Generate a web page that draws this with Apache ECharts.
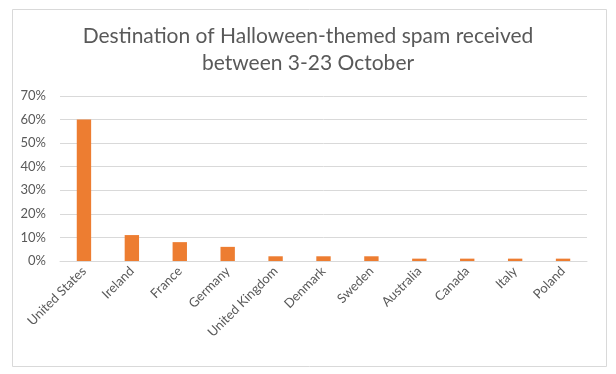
<!DOCTYPE html>
<html>
<head>
<meta charset="utf-8">
<script src="https://cdn.jsdelivr.net/npm/echarts@6/dist/echarts.min.js"></script>
<style>
html,body{margin:0;padding:0;background:#fff;}
#main{width:616px;height:374px;}
</style>
</head>
<body>
<div id="main"></div>
<script>
const categories = ["United States","Ireland","France","Germany","United Kingdom","Denmark","Sweden","Australia","Canada","Italy","Poland"];
const values = [60, 11, 8, 6, 2, 2, 2, 1, 1, 1, 1];
const titleLines = ["Destination of Halloween-themed spam received", "between 3-23 October"];

const chart = echarts.init(document.getElementById('main'), null, {renderer:'canvas'});
chart.setOption({
  animation:false,
  backgroundColor:'#fff',
  graphic:[{
    type:'rect', left:10, top:7, shape:{width:594, height:357},
    style:{fill:'none', stroke:'#D9D9D9', lineWidth:1}, silent:true, z:-1
  }],
  title:{
    text: titleLines.join('\n'),
    left:'center', top:18,
    textStyle:{fontFamily:'Lato', fontSize:21, fontWeight:'normal', color:'#595959', lineHeight:27}
  },
  grid:{left:60, right:29, top:96, bottom:113, containLabel:false},
  xAxis:{
    type:'category', data:categories,
    axisLine:{show:true, lineStyle:{color:'#D9D9D9'}},
    axisTick:{show:false},
    axisLabel:{rotate:45, interval:0, color:'#595959', fontFamily:'Lato', fontSize:13, margin:8}
  },
  yAxis:{
    type:'value', min:0, max:70, interval:10,
    axisLine:{show:false}, axisTick:{show:false},
    splitLine:{lineStyle:{color:'#D9D9D9'}},
    axisLabel:{formatter:'{value}%', color:'#595959', fontFamily:'Lato', fontSize:13, margin:14}
  },
  series:[{
    type:'bar', data:values, barWidth:'30%',
    itemStyle:{color:'#ED7D31'}
  }]
});
</script>
</body>
</html>
